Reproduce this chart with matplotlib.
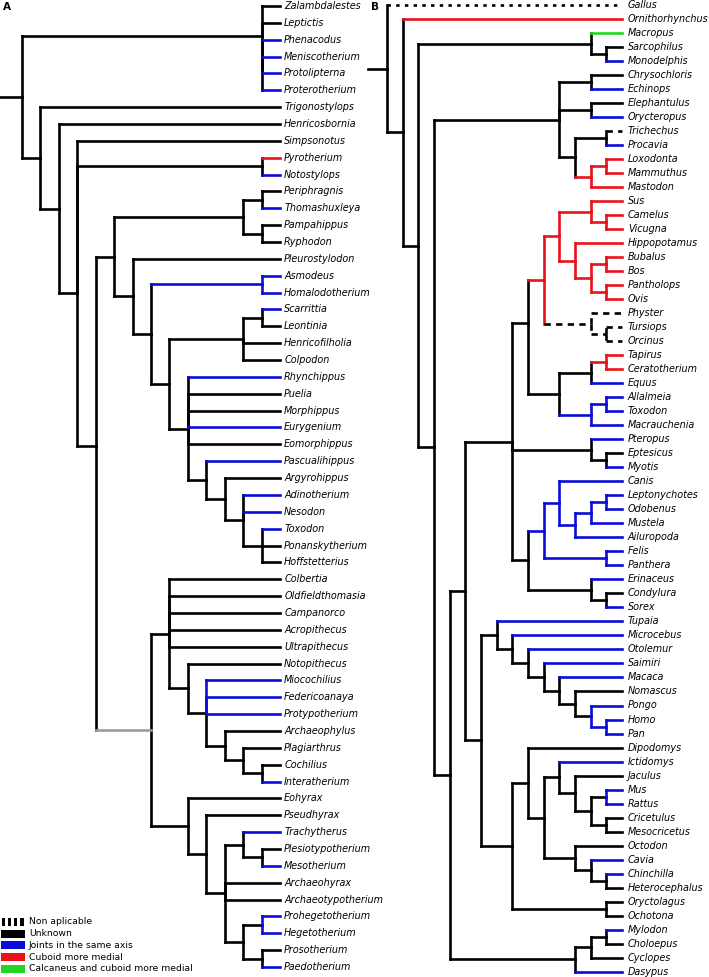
import matplotlib
matplotlib.use("Agg")
import matplotlib.pyplot as plt
from matplotlib.patches import Rectangle

# ---------------- data ----------------
# Newick-like topology: internal nodes are written ")name@level" (level = depth step from root)
# ---- tree A (South American native ungulates) ----
A_outgroup = "(Zalambdalestes,Leptictis,(Phenacodus,Meniscotherium,Protolipterna,Proterotherium)@13)@13"
A_peri = "((Periphragnis,Thomashuxleya)@13,(Pampahippus,Ryphodon)@13)@12"
A_toxo = "(Adinotherium,Nesodon,(Toxodon,Ponanskytherium,Hoffstetterius)@13)@12"
A_notohipp = f"(Rhynchippus,Puelia,Morphippus,Eurygenium,Eomorphippus,(Pascualihippus,(Argyrohippus,{A_toxo})@11)@10)@9"
A_c9 = f"(((Scarrittia,Leontinia)@13,Henricofilholia,Colpodon)@12,{A_notohipp})@8"
A_c8 = f"((Asmodeus,Homalodotherium)asmo@13,{A_c9})@7"
A_c7 = f"(Pleurostylodon,{A_c8})@6"
A_toxodontia = f"({A_peri},{A_c7})@5"
A_inter = ("(Notopithecus,(Miocochilius,Federicoanaya,Protypotherium,(Archaeophylus,"
           "(Plagiarthrus,(Cochilius,Interatherium)@13)@12)@11)CM@10)@9")
A_colb = f"(Colbertia,Oldfieldthomasia,Campanorco,Acropithecus,Ultrapithecus,{A_inter})@8"
A_hege = ("(Eohyrax,(Pseudhyrax,((Trachytherus,(Plesiotypotherium,Mesotherium)@13)@12,"
          "Archaeohyrax,Archaeotypotherium,((Prohegetotherium,Hegetotherium)prohe@13,"
          "(Prosotherium,Paedotherium)@13)@12)@11)@10)@9")
A_typo = f"({A_colb},{A_hege})T@7"
A_c5 = f"({A_toxodontia},{A_typo})C5@4"
A_c4 = f"(Simpsonotus,(Pyrotherium,Notostylops)@13,{A_c5})@3"
TREE_A = f"({A_outgroup},(Trigonostylops,(Henricosbornia,{A_c4})@2)@1)@0"

# ---- tree B (extant amniotes + extinct taxa) ----
B_mars = "(Macropus,(Sarcophilus,Monodelphis)@14)@13"
B_ele = "((Loxodonta,Mammuthus)@14,Mastodon)ele@13"
B_afro = f"((Chrysochloris,Echinops)@13,(Elephantulus,Orycteropus)@13,((Trichechus,Procavia)@14,{B_ele})@12)@11"
B_art = ("((Sus,(Camelus,Vicugna)@14)@13,(Hippopotamus,((Bubalus,Bos)@14,"
         "(Pantholops,Ovis)@14)@13)@12)art@11")
B_wha = "(Physter,(Tursiops,Orcinus)@14)wha@13"
B_cet = f"({B_art},{B_wha})cet@10"
B_pe = "(((Tapirus,Ceratotherium)tapcer@14,Equus)@13,((Allalmeia,Toxodon)@14,Macrauchenia)lit@13)@11"
B_L1 = f"({B_cet},{B_pe})L1@9"
B_bats = "(Pteropus,(Eptesicus,Myotis)@14)@13"
B_carn = "((Canis,(((Leptonychotes,Odobenus)@14,Mustela)@13,Ailuropoda)@12)@11,(Felis,Panthera)@14)carn@10"
B_eul = "(Erinaceus,(Condylura,Sorex)@14)@13"
B_laur = f"({B_L1},{B_bats},({B_carn},{B_eul})@9)@8"
B_prim = ("(Tupaia,(Microcebus,(Otolemur,(Saimiri,(Macaca,(Nomascus,(Pongo,(Homo,Pan)hompan@14)p7@13)"
          "@12)@11)@10)@9)@8)@7")
B_muro = "(Ictidomys,(Jaculus,((Mus,Rattus)musrat@14,(Cricetulus,Mesocricetus)@14)@13)@12)@11"
B_hystr = "(Octodon,(Cavia,(Chinchilla,Heterocephalus)@14)@13)@12"
B_glires = f"((Dipodomys,({B_muro},{B_hystr})@10)@9,(Oryctolagus,Ochotona)@14)@8"
B_euarch = f"({B_prim},{B_glires})@6"
B_xen = "(((Mylodon,Choloepus)@14,Cyclopes)@13,Dasypus)@12"
B_N4 = f"(({B_laur},{B_euarch})@5,{B_xen})@4"
TREE_B = f"(Gallus,(Ornithorhynchus,({B_mars},({B_afro},{B_N4})@3)@2)@1)@0"

# character states of branches (default: unknown)
BLUE_A = ["Phenacodus", "Meniscotherium", "Protolipterna", "Proterotherium", "Notostylops",
          "Thomashuxleya", "Scarrittia", "Rhynchippus", "Eurygenium", "Pascualihippus",
          "Adinotherium", "Nesodon", "Toxodon", "Miocochilius", "Federicoanaya", "Protypotherium",
          "Interatherium", "Trachytherus", "Mesotherium", "Prohegetotherium", "Hegetotherium",
          "Paedotherium"]
RED_A = ["Pyrotherium"]
EQUIV_A = ["T"]
CLADE_A = {"asmo": "blue"}
BAR_A = {"CM": "blue", "prohe": "blue"}
FRAC_A = {"C5": 0.40}

BLUE_B = ["Monodelphis", "Echinops", "Orycteropus", "Procavia", "Equus", "Pteropus", "Myotis",
          "Erinaceus", "Sorex", "Tupaia", "Microcebus", "Otolemur", "Saimiri", "Macaca", "Pongo",
          "Ictidomys", "Mus", "Rattus", "Cavia", "Chinchilla", "Mylodon", "Dasypus"]
RED_B = ["Ornithorhynchus", "cet"]
GREEN_B = ["Macropus"]
NA_B = ["Trichechus"]
DOT_B = ["Gallus"]
CLADE_B = {"ele": "red", "art": "red", "tapcer": "red", "wha": "na", "lit": "blue",
           "carn": "blue", "hompan": "blue"}
BAR_B = {"cet": "red", "p7": "blue", "musrat": "blue"}
FRAC_B = {"L1": 0.38}

LEGEND_STATES = ["na", "unk", "blue", "red", "green"]
LEGEND_LABELS = ["Non aplicable", "Unknown", "Joints in the same axis",
                 "Cuboid more medial", "Calcaneus and cuboid more medial"]

# ---------------- styles ----------------
COLORS = {"unk": "black", "blue": "#0c0cd8", "red": "#e8121c", "green": "#22d622",
          "eq": "#9a9a9a", "na": "black", "dot": "black"}
DASHES = {"na": (2.4, 2.0), "dot": (1.3, 2.0)}
LW = 1.9
FS = 6.9
W, H = 709, 977


def parse_newick(s):
    s = "".join(s.split())
    pos = 0

    def read_label():
        nonlocal pos
        start = pos
        while pos < len(s) and s[pos] not in ",()":
            pos += 1
        return s[start:pos]

    def node():
        nonlocal pos
        if s[pos] == "(":
            pos += 1
            kids = [node()]
            while s[pos] == ",":
                pos += 1
                kids.append(node())
            pos += 1
            name, lev = read_label().split("@")
            return {"name": name, "level": float(lev), "kids": kids}
        return {"name": read_label(), "kids": []}

    return node()


def build_states(lists):
    d = {}
    for state, names in lists.items():
        for n in names:
            d[n] = state
    return d


def draw_tree(ax, newick, edge_state, bar_state, clade_state, frac, tip_level,
              stub, fs, text_off):
    root = parse_newick(newick)
    counter = [0]

    def layout(n, inherited):
        if inherited is None and n["name"] in clade_state:
            inherited = clade_state[n["name"]]
        if inherited is not None:
            n["edge"] = inherited
            n["bar"] = inherited
        else:
            n["edge"] = edge_state.get(n["name"], "unk")
            n["bar"] = bar_state.get(n["name"], "unk")
        if not n["kids"]:
            n["y"] = counter[0]
            n["x"] = tip_level
            counter[0] += 1
            return
        for k in n["kids"]:
            layout(k, inherited)
        y0, y1 = n["kids"][0]["y"], n["kids"][-1]["y"]
        n["y"] = y0 + frac.get(n["name"], 0.5) * (y1 - y0)
        n["x"] = n["level"]

    layout(root, None)

    segs = []

    def collect(n):
        for k in n["kids"]:
            s_stub = n["bar"]
            if s_stub != "unk" and k["edge"] == "unk":
                s_stub = "unk"
            segs.append((s_stub, n["x"], n["y"], n["x"], k["y"]))
            segs.append((k["edge"], n["x"], k["y"], k["x"], k["y"]))
            if not k["kids"]:
                ax.annotate(k["name"], (k["x"], k["y"]), xytext=(text_off, 0),
                            textcoords="offset points", ha="left", va="center",
                            fontsize=fs, style="italic", family="DejaVu Sans",
                            annotation_clip=False)
            collect(k)

    segs.append(("unk", -stub, root["y"], 0, root["y"]))
    collect(root)

    for st, x0, y0, x1, y1 in sorted(segs, key=lambda t: t[0] != "unk"):
        if y0 == y1 and x0 == x1:
            continue
        z = 1 if st == "unk" else 2
        if st in DASHES:
            ax.plot([x0, x1], [y0, y1], color=COLORS[st], lw=LW, dashes=DASHES[st],
                    dash_capstyle="butt", zorder=z, clip_on=False)
        else:
            ax.plot([x0, x1], [y0, y1], color=COLORS[st], lw=LW,
                    solid_capstyle="projecting", zorder=z, clip_on=False)


fig = plt.figure(figsize=(W / 100, H / 100), dpi=100)

# tree A: root at 22 px, step 18.43 px, tips every 16.86 px from y=6
axA = fig.add_axes([0, 0, 360 / W, 1])
axA.set_xlim(-22 / 18.43, (360 - 22) / 18.43)
axA.set_ylim((H - 6) / 16.86, -6 / 16.86)
axA.axis("off")
draw_tree(axA, TREE_A,
          build_states({"blue": BLUE_A, "red": RED_A, "eq": EQUIV_A}),
          BAR_A, CLADE_A, FRAC_A, 14, 22 / 18.43, FS, 3.0)

# tree B: root at 387 px, step 15.67 px, tips every 14.01 px from y=5
axB = fig.add_axes([360 / W, 0, 349 / W, 1])
axB.set_xlim((360 - 387) / 15.67, (709 - 387) / 15.67)
axB.set_ylim((H - 5) / 14.01, -5 / 14.01)
axB.axis("off")
draw_tree(axB, TREE_B,
          build_states({"blue": BLUE_B, "red": RED_B, "green": GREEN_B, "na": NA_B,
                        "dot": DOT_B}),
          BAR_B, CLADE_B, FRAC_B, 15, 19 / 15.67, FS, 4.2)

# overlay for panel letters and legend (pixel coordinates)
ov = fig.add_axes([0, 0, 1, 1], zorder=5)
ov.set_xlim(0, W)
ov.set_ylim(H, 0)
ov.axis("off")
ov.patch.set_alpha(0)
ov.text(3, 7, "A", fontsize=7.5, fontweight="bold", va="center", ha="left")
ov.text(371, 7, "B", fontsize=7.5, fontweight="bold", va="center", ha="left")

ly = [922, 933.5, 945.3, 957, 968.6]
for yc, st, lab in zip(ly, LEGEND_STATES, LEGEND_LABELS):
    if st == "na":
        for k in range(4):
            ov.add_patch(Rectangle((1.5 + k * 6.2, yc - 4), 3.4, 8, color="black", lw=0))
    else:
        ov.add_patch(Rectangle((1, yc - 4), 24, 8, color=COLORS[st], lw=0))
    ov.text(29, yc, lab, fontsize=6.7, va="center", ha="left", family="DejaVu Sans")

fig.savefig("out.png", dpi=100)
